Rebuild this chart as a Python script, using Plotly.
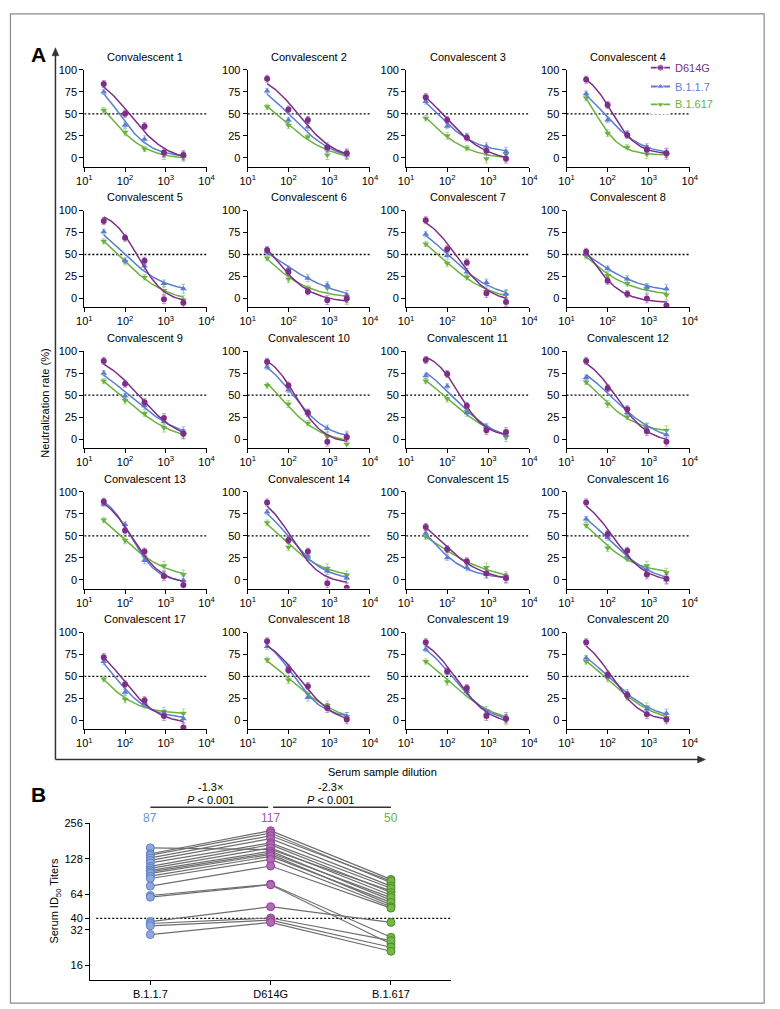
import numpy as np
import plotly.graph_objects as go

# ---------------- data ----------------
DILUTIONS = [30, 100, 300, 900, 2700]
VARIANTS = ["D614G", "B.1.1.7", "B.1.617"]
PANEL_TITLES = [f"Convalescent {i}" for i in range(1, 21)]

D614G = [
    [84, 50, 36, 6, 3], [90, 55, 43, 12, 5], [69, 43, 23, 8, -1], [89, 60, 26, 9, 5],
    [88, 69, 43, -1, -5], [55, 30, 8, -2, 0], [89, 56, 41, 6, -4], [53, 20, 5, 0, -8],
    [89, 63, 42, 24, 6], [88, 61, 30, -3, 2], [90, 74, 38, 10, 8], [89, 58, 34, 9, -3],
    [89, 56, 32, 4, -6], [88, 45, 32, -4, -9], [60, 35, 21, 7, 2], [88, 52, 33, 6, 1],
    [72, 41, 23, 5, -8], [90, 57, 39, 14, 1], [89, 56, 37, 5, 2], [89, 52, 29, 7, 1],
]
B117 = [
    [75, 37, 21, 5, 2], [76, 43, 35, 10, 3], [64, 36, 24, 13, 7], [73, 43, 27, 12, 6],
    [76, 43, 37, 17, 11], [53, 34, 23, 15, 4], [73, 49, 30, 18, 5], [50, 34, 22, 13, 11],
    [75, 49, 38, 20, 9], [82, 56, 30, 12, 4], [72, 60, 30, 14, 5], [70, 57, 30, 14, 5],
    [86, 63, 22, 6, -1], [77, 47, 26, 10, 2], [53, 25, 14, 6, 1], [69, 48, 27, 12, 0],
    [67, 32, 20, 8, 2], [84, 61, 26, 15, 4], [81, 55, 33, 8, 4], [71, 51, 31, 13, 8],
]
B1617 = [
    [54, 29, 10, 3, 1], [58, 37, 24, 3, 4], [45, 25, 11, -1, 4], [68, 28, 12, 4, 3],
    [65, 42, 24, 9, -2], [46, 22, 12, 12, -2], [62, 40, 24, 8, 4], [48, 26, 17, 11, 4],
    [66, 44, 29, 13, 5], [61, 40, 18, 3, -6], [66, 46, 31, 12, 2], [65, 40, 25, 13, 10],
    [68, 45, 26, 16, 6], [65, 37, 26, 13, 5], [49, 33, 19, 14, 4], [62, 36, 24, 16, 8],
    [47, 24, 17, 10, 8], [69, 46, 30, 17, 4], [67, 44, 33, 11, 0], [67, 48, 26, 15, 3],
]
ERR_D614G = [4, 4, 4, 5, 5]
ERR_B117 = [3, 3, 4, 4, 5]
ERR_B1617 = [3, 4, 3, 5, 5]

# Panel B: serum ID50 titers per subject
ID50_B117 = [158, 141, 137, 130, 124, 118, 110, 106, 102, 99, 96, 91, 87, 75, 62.5, 60.5, 37.6, 36.2, 34.6, 29.2]
ID50_D614G = [153, 221, 211, 200, 189, 174, 168, 158, 148, 143, 139, 134, 126, 111, 77.8, 77.0, 50.2, 40.3, 38.7, 37.0]
ID50_B1617 = [68.4, 85.5, 80.0, 82.7, 75.0, 71.9, 66.2, 62.7, 57.1, 60.0, 52.1, 54.6, 50.2, 48.9, 27.7, 24.3, 37.0, 25.9, 22.8, 21.1]
B_CATEGORIES = ["B.1.1.7", "D614G", "B.1.617"]
GMT_LABELS = ["87", "117", "50"]
FOLD_LABELS = ["-1.3×", "-2.3×"]
P_LABEL = "<i>P</i> < 0.001"

# ---------------- style ----------------
W, H = 780, 1009
FONT = "Arial, Liberation Sans, Helvetica, sans-serif"
COL = {"D614G": "#7D2E87", "B.1.1.7": "#5B7FCF", "B.1.617": "#6AB23E"}
ERRCOL = {"D614G": "rgba(150,70,160,0.55)", "B.1.1.7": "rgba(110,140,215,0.55)", "B.1.617": "rgba(120,190,80,0.55)"}
SYM = {"D614G": "circle", "B.1.1.7": "triangle-up", "B.1.617": "triangle-down"}
DOT = "2px,2px"


def X(px):
    return px / W


def Y(py):
    return 1 - py / H


def txt(x, y, text, size=11, color="black", angle=0, xanchor="center", xref="paper", yref="paper", yshift=0):
    return dict(x=x, y=y, xref=xref, yref=yref, text=text, showarrow=False, textangle=angle,
                xanchor=xanchor, yanchor="middle", yshift=yshift,
                font=dict(size=size, color=color, family=FONT))


COL_L = [78, 245, 407, 571]
COL_R = [203, 370, 533, 697]
ROW_STEP = 141.5
TOP100 = 64.3
BOTM10 = 161.5


def fit_curve(yv):
    lx = np.log10(np.array(DILUTIONS, float))
    L = np.arange(0.5, 3.51, 0.01)[:, None, None, None]
    Hh = np.arange(0.3, 3.01, 0.02)[None, :, None, None]
    B = np.arange(-5, 16, 1.0)[None, None, :, None]
    pred = B + (100 - B) / (1 + 10 ** ((lx - L) * Hh))
    sse = ((pred - np.array(yv, float)) ** 2).sum(-1)
    i, j, k = np.unravel_index(sse.argmin(), sse.shape)
    l0, h0, b0 = L[i, 0, 0, 0], Hh[0, j, 0, 0], B[0, 0, k, 0]
    xs = np.logspace(np.log10(DILUTIONS[0]), np.log10(DILUTIONS[-1]), 80)
    ys = b0 + (100 - b0) / (1 + 10 ** ((np.log10(xs) - l0) * h0))
    return xs, ys


fig = go.Figure()
layout = dict(
    width=W, height=H, margin=dict(l=0, r=0, t=0, b=0),
    paper_bgcolor="white", plot_bgcolor="white", showlegend=False,
    font=dict(family=FONT, size=11, color="black"),
)
annotations = []
shapes = []

series_data = {"D614G": (D614G, ERR_D614G), "B.1.1.7": (B117, ERR_B117), "B.1.617": (B1617, ERR_B1617)}

for p in range(20):
    r, c = divmod(p, 4)
    n = p + 1
    xa = "x" if n == 1 else f"x{n}"
    ya = "y" if n == 1 else f"y{n}"
    xkey = "xaxis" if n == 1 else f"xaxis{n}"
    ykey = "yaxis" if n == 1 else f"yaxis{n}"
    layout[xkey] = dict(
        domain=[X(COL_L[c]), X(COL_R[c])], anchor=ya, type="log", range=[1, 4],
        tickvals=[10, 100, 1000, 10000],
        ticktext=["10<sup>1</sup>", "10<sup>2</sup>", "10<sup>3</sup>", "10<sup>4</sup>"],
        showline=True, linecolor="black", linewidth=1, ticks="outside", ticklen=4,
        tickwidth=1, tickcolor="black", showgrid=False, zeroline=False,
        tickfont=dict(size=11, family=FONT),
    )
    layout[ykey] = dict(
        domain=[Y(BOTM10 + ROW_STEP * r), Y(TOP100 + ROW_STEP * r)], anchor=xa,
        range=[-10, 100], tickvals=[0, 25, 50, 75, 100],
        showline=True, linecolor="black", linewidth=1, ticks="outside", ticklen=4,
        tickwidth=1, tickcolor="black", showgrid=False, zeroline=False,
        tickfont=dict(size=11, family=FONT),
    )
    fig.add_trace(go.Scatter(x=[10, 10000], y=[50, 50], mode="lines", xaxis=xa, yaxis=ya,
                             line=dict(color="black", width=1.3, dash=DOT), hoverinfo="skip"))
    for v in ["B.1.617", "B.1.1.7", "D614G"]:
        vals, err = series_data[v]
        xs, ys = fit_curve(vals[p])
        fig.add_trace(go.Scatter(x=xs, y=ys, mode="lines", xaxis=xa, yaxis=ya,
                                 line=dict(color=COL[v], width=1.5), hoverinfo="skip"))
        fig.add_trace(go.Scatter(
            x=DILUTIONS, y=vals[p], mode="markers", xaxis=xa, yaxis=ya,
            marker=dict(symbol=SYM[v], size=6, color=COL[v]),
            error_y=dict(type="data", array=err, color=ERRCOL[v], thickness=1, width=2),
            name=v,
        ))
    annotations.append(txt(X((COL_L[c] + COL_R[c]) / 2), Y(51 + ROW_STEP * r), PANEL_TITLES[p]))

# ---------- manual legend (inside panel 4) ----------
LEG_Y = [62, 81, 99]
layout["xaxis22"] = dict(domain=[X(657), X(677)], range=[0, 1], visible=False, anchor="y22")
layout["yaxis22"] = dict(domain=[Y(109), Y(52)], range=[109, 52], visible=False, anchor="x22")
for v, ly in zip(VARIANTS, LEG_Y):
    fig.add_trace(go.Scatter(x=[0, 0.5, 1], y=[ly, ly, ly], mode="lines+markers", xaxis="x22", yaxis="y22",
                             line=dict(color=COL[v], width=1.8),
                             marker=dict(symbol=SYM[v], size=[0, 7, 0], color=COL[v]), hoverinfo="skip"))
    annotations.append(txt(X(680), Y(ly), v, color=COL[v], xanchor="left"))

# ---------- panel A frame arrows / labels ----------
AX_X, AX_Y0, AX_Y1, AX_X1 = 48.5, 42, 758, 713
shapes.append(dict(type="line", xref="paper", yref="paper", x0=X(AX_X), x1=X(AX_X), y0=Y(AX_Y1), y1=Y(AX_Y0 + 6),
                   line=dict(color="#333333", width=1.5)))
shapes.append(dict(type="line", xref="paper", yref="paper", x0=X(AX_X), x1=X(AX_X1 - 6), y0=Y(AX_Y1), y1=Y(AX_Y1),
                   line=dict(color="#333333", width=1.5)))
shapes.append(dict(type="path", xref="paper", yref="paper",
                   path=f"M {X(AX_X - 3.5)} {Y(AX_Y0 + 8)} L {X(AX_X)} {Y(AX_Y0)} L {X(AX_X + 3.5)} {Y(AX_Y0 + 8)} Z",
                   fillcolor="#333333", line=dict(color="#333333", width=0.5)))
shapes.append(dict(type="path", xref="paper", yref="paper",
                   path=f"M {X(AX_X1 - 8)} {Y(AX_Y1 - 3.5)} L {X(AX_X1)} {Y(AX_Y1)} L {X(AX_X1 - 8)} {Y(AX_Y1 + 3.5)} Z",
                   fillcolor="#333333", line=dict(color="#333333", width=0.5)))
annotations.append(txt(X(37), Y(400), "Neutralization rate (%)", angle=-90))
annotations.append(txt(X(383), Y(771), "Serum sample dilution"))
annotations.append(txt(X(31), Y(48.5), "<b>A</b>", size=21))
annotations.append(txt(X(31), Y(793), "<b>B</b>", size=21))

# ---------- panel B ----------
layout["xaxis21"] = dict(domain=[X(84), X(453)], anchor="y21", range=[-0.5, 2.5], tickvals=[0, 1, 2],
                         ticktext=B_CATEGORIES, showline=True, linecolor="black", linewidth=1.2,
                         ticks="outside", ticklen=4, tickcolor="black", showgrid=False, zeroline=False,
                         tickfont=dict(size=11, family=FONT))
layout["yaxis21"] = dict(domain=[Y(980), Y(822)], anchor="x21", type="log",
                         range=[np.log10(12), np.log10(256)], tickvals=[16, 32, 40, 64, 128, 256],
                         showline=True, linecolor="black", linewidth=1.2, ticks="outside", ticklen=4,
                         tickcolor="black", showgrid=False, zeroline=False,
                         tickfont=dict(size=11, family=FONT))
annotations.append(txt(X(48), Y(900), "Serum ID<sub>50</sub> Titers", angle=-90))
fig.add_trace(go.Scatter(x=[-0.45, 2.5], y=[40, 40], mode="lines", xaxis="x21", yaxis="y21",
                         line=dict(color="black", width=1.3, dash=DOT), hoverinfo="skip"))
for a, b, cc in zip(ID50_B117, ID50_D614G, ID50_B1617):
    fig.add_trace(go.Scatter(x=[0, 1, 2], y=[a, b, cc], mode="lines", xaxis="x21", yaxis="y21",
                             line=dict(color="#6E6E6E", width=1.2), hoverinfo="skip"))
B_FILL = ["#8EA8DC", "#B46AB7", "#74B946"]
B_EDGE = ["#5F7FC2", "#8A4690", "#4C8C2C"]
for k, vals in enumerate([ID50_B117, ID50_D614G, ID50_B1617]):
    fig.add_trace(go.Scatter(x=[k] * len(vals), y=vals, mode="markers", xaxis="x21", yaxis="y21",
                             marker=dict(symbol="circle", size=8, color=B_FILL[k],
                                         line=dict(color=B_EDGE[k], width=1))))
GMT_COL = ["#6F8FD3", "#A655AA", "#6AB23E"]
for k, (lab, col) in enumerate(zip(GMT_LABELS, GMT_COL)):
    annotations.append(txt(k, Y(817), lab, size=12, color=col, xref="x21"))
for k, lab in enumerate(FOLD_LABELS):
    xm = k + 0.5
    annotations.append(txt(xm, Y(786), lab, xref="x21"))
    annotations.append(txt(xm, Y(798.5), P_LABEL, xref="x21"))
    shapes.append(dict(type="line", xref="x21", yref="paper", x0=k + (0.02 if k else 0),
                       x1=k + 1 - (0.02 if k == 0 else 0), y0=Y(806), y1=Y(806),
                       line=dict(color="#333333", width=1.5)))

# outer border
shapes.append(dict(type="rect", xref="paper", yref="paper", x0=X(2.5), x1=X(773), y0=Y(1003), y1=Y(8),
                   line=dict(color="#8a8a8a", width=1.2)))

layout["annotations"] = annotations
layout["shapes"] = shapes
fig.update_layout(**layout)
fig.write_html("out.html", config={"displayModeBar": False},
               post_script="document.body.style.margin='0';document.body.style.overflow='hidden';")
